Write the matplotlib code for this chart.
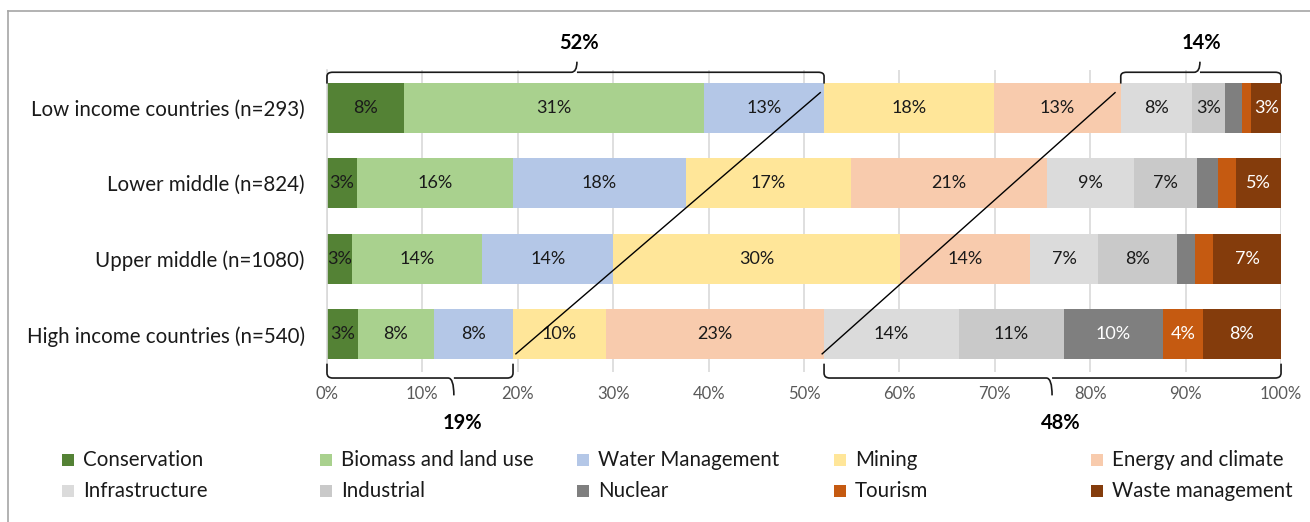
import matplotlib.pyplot as plt
import numpy as np
from matplotlib.path import Path
from matplotlib.patches import PathPatch, Rectangle
from matplotlib.lines import Line2D

plt.rcParams['font.family'] = ['Lato', 'DejaVu Sans']

groups = ['Low income countries (n=293)', 'Lower middle (n=824)',
          'Upper middle (n=1080)', 'High income countries (n=540)']
sectors = ['Conservation', 'Biomass and land use', 'Water Management', 'Mining',
           'Energy and climate', 'Infrastructure', 'Industrial', 'Nuclear',
           'Tourism', 'Waste management']
colors = ['#548235', '#A9D18E', '#B4C7E7', '#FFE699', '#F8CBAD',
          '#DBDBDB', '#C9C9C9', '#7F7F7F', '#C55A11', '#843C0C']
text_colors = ['#1a1a1a'] * 7 + ['white', 'white', 'white']

# share of each sector per income group (%)
shares = np.array([
    [8.1, 31.4, 12.6, 17.8, 13.3, 7.5, 3.4, 1.8, 1.0, 3.1],
    [3.1, 16.4, 18.1, 17.3, 20.6, 9.1, 6.6, 2.2, 1.9, 4.7],
    [2.6, 13.7, 13.7, 30.1, 13.6, 7.1, 8.3, 1.9, 1.9, 7.1],
    [3.2, 8.0, 8.3, 9.7, 22.9, 14.1, 11.0, 10.4, 4.2, 8.2],
])

# bracket annotations: (x start, x end, x of tip, label)
top_brackets = [(0, 52.1, 26.2, '52%'), (83.2, 100, 91.5, '14%')]
bottom_brackets = [(0, 19.5, 13.3, '19%'), (52.1, 100, 76.0, '48%')]
# connecting diagonal lines (x bottom, x top)
diagonals = [(19.8, 51.7), (51.9, 82.6)]

fig = plt.figure(figsize=(13.1, 5.22), dpi=100)
ax = fig.add_axes([0.2496, 0.2874, 0.9779 - 0.2496, 0.8659 - 0.2874])

y = np.arange(len(groups))
left = np.zeros(len(groups))
for j, sec in enumerate(sectors):
    vals = shares[:, j]
    ax.barh(y, vals, left=left, height=0.66, color=colors[j], label=sec, zorder=2)
    for i in range(len(groups)):
        if vals[i] >= 2.5:
            ax.text(left[i] + vals[i] / 2, y[i], f'{round(vals[i]):.0f}%',
                    ha='center', va='center', fontsize=13, color=text_colors[j], zorder=3)
    left += vals

ax.set_xlim(0, 100)
ax.set_ylim(len(groups) - 0.5, -0.5)
ax.set_xticks(np.arange(0, 101, 10))
ax.set_xticklabels([f'{v}%' for v in range(0, 101, 10)], color='#595959', fontsize=12)
ax.set_yticks(y)
ax.set_yticklabels(groups, fontsize=14.8, color='#1a1a1a')
ax.tick_params(axis='x', length=0, pad=10)
ax.tick_params(axis='y', length=0, pad=16)
ax.grid(axis='x', color='#D9D9D9', linewidth=1.2, zorder=0)
for s in ['top', 'right', 'bottom']:
    ax.spines[s].set_visible(False)
ax.spines['left'].set_color('#D9D9D9')
ax.spines['left'].set_linewidth(1.2)


def brace(x0, x1, xm, y_end, y_line, y_tip, r=0.6):
    ry = (y_line - y_end) * 0.35
    verts = [(x0, y_end), (x0, y_line - ry), (x0, y_line), (x0 + r, y_line),
             (xm - r, y_line), (xm, y_line), (xm, y_tip),
             (xm, y_line), (xm + r, y_line),
             (x1 - r, y_line), (x1, y_line), (x1, y_line - ry), (x1, y_end)]
    codes = [Path.MOVETO, Path.LINETO, Path.CURVE3, Path.CURVE3,
             Path.LINETO, Path.CURVE3, Path.CURVE3,
             Path.MOVETO, Path.CURVE3,
             Path.LINETO, Path.CURVE3, Path.CURVE3, Path.LINETO]
    ax.add_patch(PathPatch(Path(verts, codes), fill=False, edgecolor='#1a1a1a',
                           linewidth=1.2, clip_on=False, zorder=4))


for x0, x1, xm, lab in top_brackets:
    brace(x0, x1, xm, -0.32, -0.47, -0.61)
    ax.text(xm + 0.2, -0.86, lab, ha='center', va='center',
            fontsize=14.5, fontweight='bold', clip_on=False)
for x0, x1, xm, lab in bottom_brackets:
    brace(x0, x1, xm, 3.39, 3.58, 3.81)
    ax.text(xm + 0.9, 4.17, lab, ha='center', va='center',
            fontsize=14.5, fontweight='bold', clip_on=False)

for xb, xt in diagonals:
    ax.plot([xb, xt], [3.26, -0.2], color='black', linewidth=1, zorder=4, clip_on=False)

# legend drawn as two rows of five fixed-width columns
leg_x = [68, 326, 583, 840, 1097]
leg_y = [460, 491]
for k, sec in enumerate(sectors):
    px = leg_x[k % 5]
    py = leg_y[k // 5]
    fig.patches.append(Rectangle(((px - 6) / 1310, 1 - (py + 6) / 522), 12 / 1310, 12 / 522,
                                 transform=fig.transFigure, facecolor=colors[k],
                                 edgecolor='none'))
    fig.text((px + 15) / 1310, 1 - py / 522, sec, ha='left', va='center',
             fontsize=14.8, color='#1a1a1a')

# chart border (top and left)
fig.add_artist(Line2D([8 / 1310, 8 / 1310], [0, 1 - 11 / 522], transform=fig.transFigure,
                      color='#A6A6A6', linewidth=1.2))
fig.add_artist(Line2D([8 / 1310, 1], [1 - 11 / 522, 1 - 11 / 522], transform=fig.transFigure,
                      color='#A6A6A6', linewidth=1.2))

fig.savefig('out.png', dpi=100)
